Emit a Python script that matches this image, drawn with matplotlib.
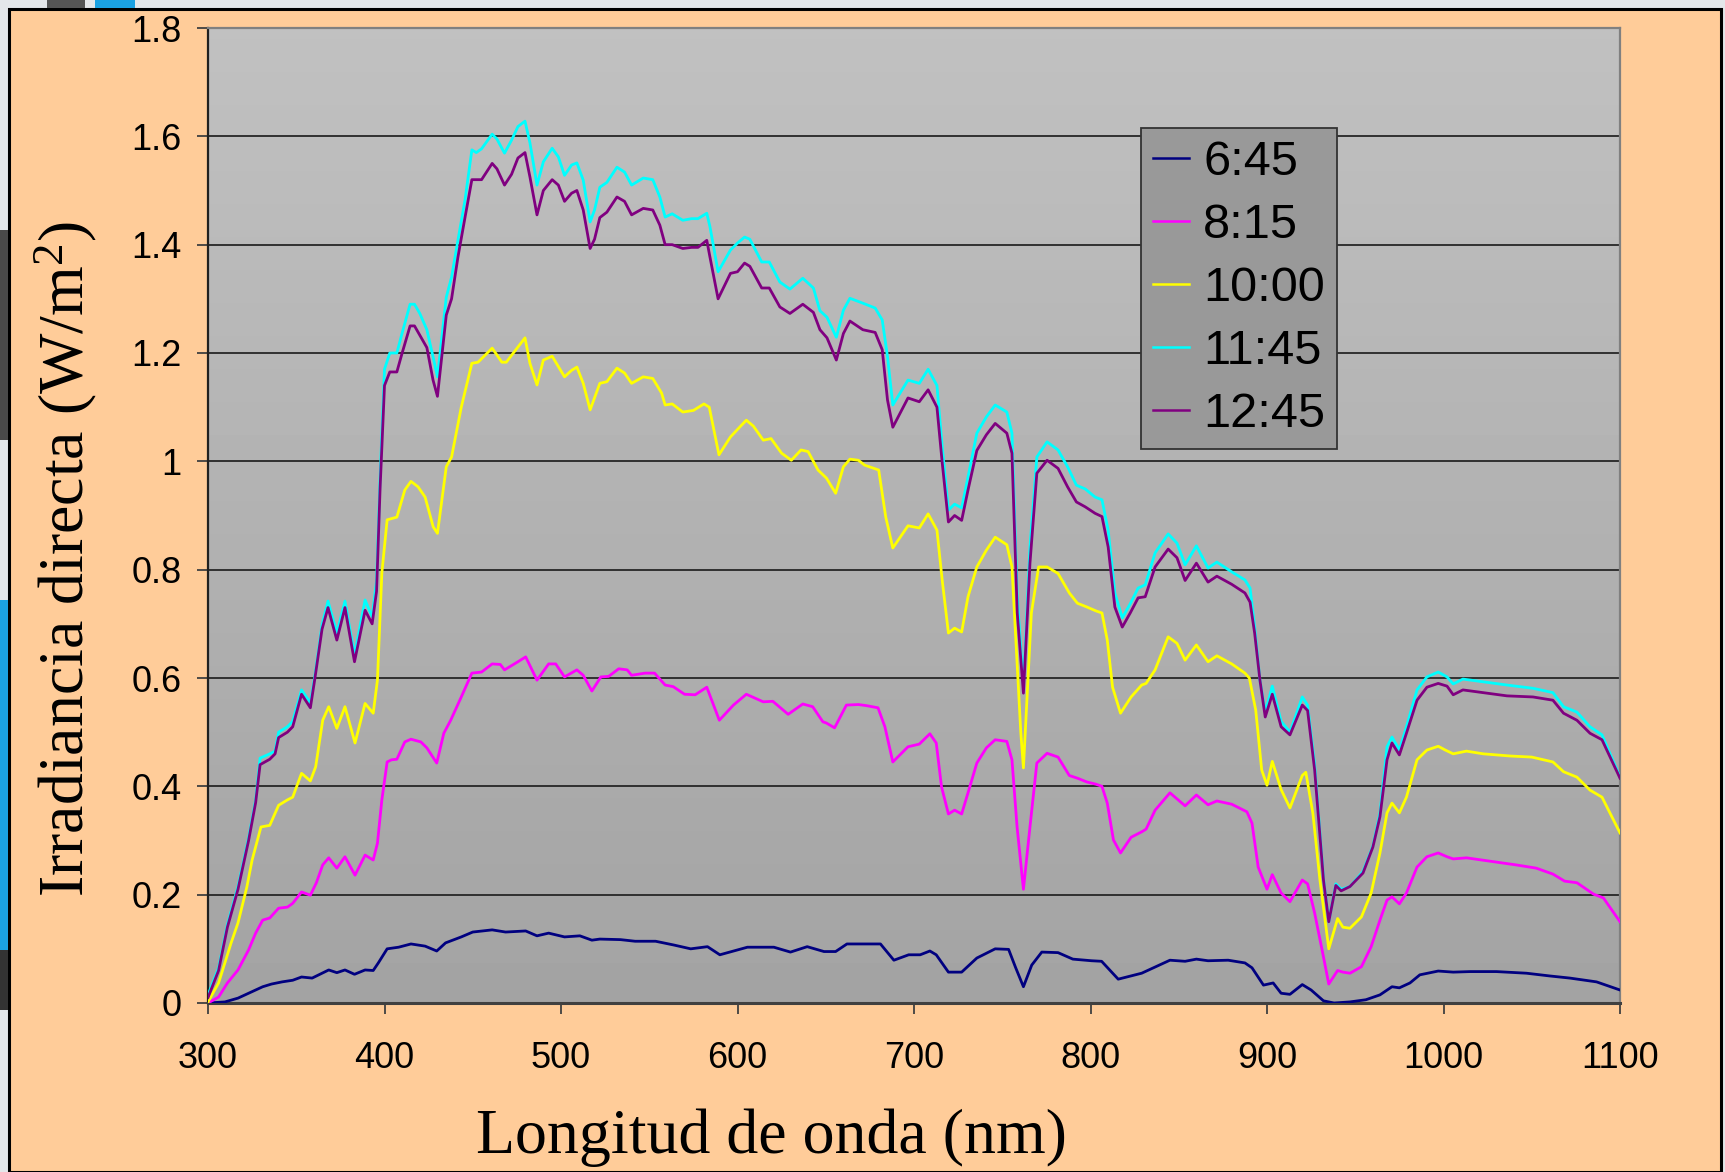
import numpy as np
import matplotlib
matplotlib.use("Agg")
import matplotlib.pyplot as plt
from matplotlib.patches import Rectangle
from matplotlib.ticker import FuncFormatter

plt.rcParams['font.family'] = ['Liberation Sans', 'DejaVu Sans']

# ---------------- data ----------------
series_labels = ["6:45", "8:15", "10:00", "11:45", "12:45"]
series_colors = ["#000080", "#FF00FF", "#FFFF00", "#00FFFF", "#800080"]

wl_0645 = [300, 309.6, 317, 323, 331, 336, 342, 348, 353, 359, 368.4, 373, 377.6, 383, 389, 393.6, 396.5,
           401.5, 408, 415, 423, 429.6, 434.6, 443.5, 450, 461, 468.6, 480, 486.4, 493, 502, 510.7, 517.5,
           522, 533.7, 542, 553.6, 564, 573.5, 583, 590, 605.6, 620.6, 630, 639.5, 649, 655.6, 662, 681,
           688.6, 697, 703.5, 709, 712.6, 719.5, 727, 735.6, 746, 753.6, 757.5, 762, 766.7, 772.4, 781.6,
           790, 800.6, 806.3, 815.7, 829, 845, 853.6, 860, 866.6, 878, 887.5, 891.5, 898, 903.5, 908, 913,
           920, 925, 932, 938, 947, 956, 964, 970.8, 975, 981, 986.6, 997, 1005.5, 1015, 1030, 1047, 1060,
           1071.6, 1086.7, 1100]
irr_0645 = [0.0, 0.002, 0.009, 0.018, 0.03, 0.035, 0.039, 0.042, 0.048, 0.046, 0.061, 0.056, 0.061, 0.053,
            0.061, 0.06, 0.074, 0.10, 0.103, 0.109, 0.105, 0.096, 0.111, 0.122, 0.131, 0.135, 0.131, 0.133,
            0.124, 0.129, 0.122, 0.124, 0.116, 0.118, 0.117, 0.114, 0.114, 0.107, 0.10, 0.104, 0.089, 0.103,
            0.103, 0.094, 0.104, 0.095, 0.095, 0.109, 0.109, 0.079, 0.089, 0.089, 0.096, 0.089, 0.057, 0.057,
            0.083, 0.10, 0.099, 0.066, 0.03, 0.07, 0.094, 0.093, 0.081, 0.078, 0.077, 0.044, 0.055, 0.079,
            0.077, 0.081, 0.078, 0.079, 0.074, 0.065, 0.033, 0.037, 0.018, 0.016, 0.034, 0.024, 0.004, 0.0,
            0.002, 0.006, 0.015, 0.03, 0.028, 0.037, 0.052, 0.059, 0.057, 0.058, 0.058, 0.055, 0.05, 0.046,
            0.039, 0.024]

wl_0815 = [300, 306, 311, 317, 323, 327, 331, 335, 340, 345, 348, 353, 358, 361.4, 365, 368.4, 373, 377.6,
           383.3, 389, 393.6, 396, 398.5, 401.5, 404, 407, 411.5, 415, 420.6, 424, 429.6, 433.6, 437.5,
           443.5, 449.5, 455, 461, 465.6, 468, 475.6, 480, 486.4, 493, 497, 502, 509, 512.6, 517.5, 522.6,
           527, 532.7, 537.5, 540, 547.6, 553, 559, 563.6, 570, 576, 582.6, 589.7, 597.7, 605, 614.6, 620,
           628.7, 637, 642.6, 648.4, 650.3, 655, 661.7, 668.5, 673, 679.6, 683.5, 688, 696.6, 703, 709,
           712.6, 715.6, 719.5, 723, 727, 730.6, 735.6, 741, 746, 752.6, 755.5, 758.4, 762, 765.7, 769.6,
           775.4, 781.6, 788, 792.6, 798, 803, 806.5, 809.5, 813, 817, 823, 829, 831.5, 836.6, 845, 853.6,
           860, 866.6, 871.6, 880, 888.6, 891.5, 895, 900, 903, 908, 913, 920, 923, 927, 932, 935, 940, 943,
           947, 953.5, 959, 964, 968, 970.8, 975, 979, 985, 990.6, 997, 1002, 1005.5, 1013, 1026, 1041,
           1052.5, 1062, 1068.6, 1075.6, 1085, 1090.6, 1100]
irr_0815 = [0.0, 0.011, 0.037, 0.061, 0.098, 0.129, 0.153, 0.157, 0.175, 0.177, 0.184, 0.205, 0.199, 0.222,
            0.255, 0.268, 0.249, 0.27, 0.236, 0.273, 0.264, 0.295, 0.375, 0.445, 0.449, 0.45, 0.482, 0.487,
            0.482, 0.471, 0.443, 0.498, 0.522, 0.565, 0.609, 0.611, 0.626, 0.625, 0.615, 0.63, 0.639, 0.596,
            0.626, 0.626, 0.602, 0.615, 0.605, 0.576, 0.602, 0.603, 0.617, 0.615, 0.605, 0.609, 0.609, 0.587,
            0.584, 0.57, 0.569, 0.583, 0.522, 0.55, 0.57, 0.556, 0.557, 0.533, 0.552, 0.547, 0.519, 0.517,
            0.508, 0.55, 0.551, 0.549, 0.545, 0.51, 0.445, 0.473, 0.478, 0.497, 0.48, 0.399, 0.349, 0.356,
            0.349, 0.388, 0.443, 0.471, 0.486, 0.483, 0.449, 0.325, 0.21, 0.325, 0.443, 0.461, 0.454, 0.42,
            0.415, 0.408, 0.404, 0.40, 0.369, 0.301, 0.277, 0.306, 0.316, 0.321, 0.356, 0.388, 0.364, 0.384,
            0.366, 0.373, 0.367, 0.353, 0.332, 0.251, 0.21, 0.237, 0.203, 0.187, 0.227, 0.22, 0.166, 0.085,
            0.035, 0.06, 0.057, 0.055, 0.067, 0.104, 0.153, 0.19, 0.196, 0.183, 0.203, 0.251, 0.27, 0.277,
            0.27, 0.266, 0.268, 0.262, 0.255, 0.249, 0.238, 0.225, 0.222, 0.201, 0.194, 0.15]

wl_1000 = [300, 306, 313, 317, 322, 325, 330, 335, 340, 345, 348, 353, 358, 361, 365, 368.4, 373, 377.6,
           383.3, 389, 393.6, 396, 398.5, 401.5, 407, 411.5, 415, 419, 423, 427.6, 430, 435, 438, 443.5,
           449.5, 453, 461, 466.5, 469, 475.6, 479.6, 482.4, 486.4, 490, 495, 498.5, 502, 506, 509, 512.6,
           516.5, 522, 526, 531.7, 536, 540, 546.6, 552, 557, 559, 563, 569, 575, 581, 584, 589.5, 596,
           600.6, 605, 609, 614.6, 619, 625, 630.5, 636, 640, 645.6, 650.4, 655.6, 660, 663.7, 668.5, 672,
           680, 684, 688, 696.6, 703, 708, 713, 716, 719.5, 723, 727, 730.6, 735.6, 741, 746, 752.6, 755.5,
           758.5, 760.5, 762, 766.5, 770.6, 775.4, 781.6, 788, 792.6, 798, 803, 806.5, 809.5, 812.5, 817,
           823, 829, 831.5, 836.6, 844, 849, 853.6, 860, 866.6, 871.6, 880, 887.5, 890, 893.6, 897, 900,
           903, 908, 913, 920, 922, 926, 930, 935, 940, 943, 947, 953.5, 959, 964, 968, 970.8, 975, 979,
           985, 990.6, 997, 1001, 1005.5, 1013, 1022.5, 1037.7, 1050, 1062, 1068, 1075.6, 1083, 1089.8, 1100]
irr_1000 = [0.002, 0.037, 0.11, 0.148, 0.214, 0.264, 0.325, 0.328, 0.365, 0.375, 0.38, 0.424, 0.41, 0.436,
            0.522, 0.547, 0.507, 0.547, 0.48, 0.553, 0.535, 0.596, 0.794, 0.892, 0.897, 0.947, 0.963, 0.953,
            0.934, 0.879, 0.867, 0.99, 1.008, 1.10, 1.181, 1.183, 1.209, 1.183, 1.183, 1.211, 1.228, 1.181,
            1.141, 1.187, 1.194, 1.175, 1.156, 1.168, 1.174, 1.144, 1.095, 1.144, 1.147, 1.172, 1.163, 1.144,
            1.156, 1.153, 1.126, 1.104, 1.106, 1.091, 1.094, 1.106, 1.10, 1.012, 1.045, 1.061, 1.076, 1.065,
            1.039, 1.042, 1.015, 1.002, 1.021, 1.018, 0.984, 0.969, 0.941, 0.99, 1.004, 1.002, 0.993, 0.984,
            0.897, 0.84, 0.881, 0.877, 0.903, 0.873, 0.78, 0.683, 0.692, 0.685, 0.75, 0.805, 0.836, 0.86,
            0.846, 0.805, 0.62, 0.50, 0.434, 0.72, 0.805, 0.805, 0.793, 0.757, 0.738, 0.731, 0.724, 0.72,
            0.67, 0.583, 0.535, 0.565, 0.587, 0.59, 0.615, 0.676, 0.664, 0.633, 0.661, 0.63, 0.641, 0.626,
            0.609, 0.60, 0.541, 0.43, 0.402, 0.446, 0.394, 0.36, 0.42, 0.426, 0.35, 0.227, 0.10, 0.156, 0.14,
            0.138, 0.159, 0.203, 0.277, 0.351, 0.369, 0.351, 0.38, 0.449, 0.467, 0.474, 0.467, 0.46, 0.465,
            0.46, 0.456, 0.454, 0.445, 0.427, 0.417, 0.393, 0.38, 0.314]

wl_noon = [300, 306, 311, 317, 323, 327, 329.5, 335, 338, 340, 345, 348, 353, 358, 360.6, 364.6, 368, 373,
           377.6, 383, 389, 393, 395.5, 397.5, 400, 403, 407, 410, 414.5, 417, 420, 424, 427.5, 430, 435,
           438, 441.6, 445.6, 449.5, 452, 455, 461, 463.7, 468, 472, 475.6, 479.6, 482.4, 486.4, 490, 495,
           498.5, 502, 506, 509, 512.6, 516.5, 519, 522, 526, 531.7, 536, 540, 546.6, 552, 556, 559, 563,
           569, 574, 577.6, 582.6, 584.4, 589, 596, 600, 604, 607, 613.7, 618, 624, 629.7, 637, 643, 646.7,
           650.7, 656, 660, 663.7, 671, 678, 682, 685, 688, 696.6, 703, 708, 713, 716, 719.5, 723, 727,
           730.6, 735.6, 741, 746, 752.6, 755.5, 758.5, 762, 765.7, 769.6, 775.4, 781.6, 787, 792, 797,
           802.6, 806.5, 810, 813.8, 818, 822.5, 827, 831, 836.6, 844, 849, 853.6, 860, 866.6, 871.6, 880,
           887.5, 890.4, 893, 896, 899, 903, 908, 913, 920, 923, 927, 932, 935, 939, 942, 947, 954.4, 960,
           964, 968, 970.8, 975, 979, 985, 990.6, 997, 1002, 1005.5, 1011, 1022.5, 1036, 1050.7, 1062, 1068,
           1075.6, 1083, 1089.8, 1100]
irr_1145 = [0.015, 0.065, 0.145, 0.215, 0.305, 0.375, 0.452, 0.46, 0.465, 0.50, 0.51, 0.52, 0.578, 0.554,
            0.605, 0.698, 0.742, 0.683, 0.742, 0.642, 0.744, 0.713, 0.78, 0.97, 1.17, 1.20, 1.20, 1.237,
            1.29, 1.29, 1.273, 1.243, 1.193, 1.156, 1.303, 1.34, 1.408, 1.482, 1.575, 1.57, 1.577, 1.604,
            1.595, 1.569, 1.593, 1.618, 1.628, 1.588, 1.51, 1.553, 1.578, 1.562, 1.528, 1.547, 1.551, 1.519,
            1.442, 1.464, 1.506, 1.515, 1.543, 1.534, 1.51, 1.523, 1.52, 1.488, 1.451, 1.457, 1.445, 1.448,
            1.448, 1.458, 1.433, 1.35, 1.39, 1.403, 1.414, 1.41, 1.368, 1.368, 1.331, 1.318, 1.338, 1.32,
            1.278, 1.266, 1.229, 1.279, 1.301, 1.292, 1.283, 1.261, 1.193, 1.104, 1.15, 1.144, 1.17, 1.14,
            1.026, 0.91, 0.921, 0.914, 0.971, 1.052, 1.082, 1.104, 1.091, 1.052, 0.75, 0.584, 0.842, 1.008,
            1.036, 1.021, 0.99, 0.956, 0.949, 0.934, 0.929, 0.873, 0.757, 0.711, 0.737, 0.766, 0.772, 0.831,
            0.866, 0.849, 0.809, 0.844, 0.803, 0.814, 0.796, 0.781, 0.766, 0.694, 0.596, 0.537, 0.585, 0.52,
            0.50, 0.565, 0.55, 0.44, 0.23, 0.15, 0.22, 0.21, 0.215, 0.243, 0.29, 0.351, 0.473, 0.491, 0.467,
            0.51, 0.578, 0.602, 0.611, 0.602, 0.589, 0.598, 0.593, 0.587, 0.581, 0.573, 0.547, 0.537, 0.51,
            0.495, 0.417]
irr_1245 = [0.01, 0.06, 0.14, 0.21, 0.30, 0.37, 0.44, 0.45, 0.46, 0.49, 0.50, 0.51, 0.57, 0.545, 0.60,
            0.69, 0.73, 0.67, 0.73, 0.63, 0.725, 0.70, 0.76, 0.95, 1.14, 1.165, 1.165, 1.20, 1.25, 1.25,
            1.233, 1.21, 1.15, 1.12, 1.27, 1.30, 1.377, 1.45, 1.52, 1.52, 1.52, 1.55, 1.54, 1.51, 1.53, 1.56,
            1.57, 1.525, 1.455, 1.50, 1.52, 1.51, 1.48, 1.495, 1.50, 1.464, 1.393, 1.41, 1.45, 1.46, 1.488,
            1.48, 1.455, 1.467, 1.464, 1.436, 1.40, 1.40, 1.393, 1.395, 1.395, 1.408, 1.377, 1.30, 1.347,
            1.35, 1.366, 1.36, 1.32, 1.32, 1.285, 1.273, 1.29, 1.275, 1.243, 1.228, 1.187, 1.236, 1.259,
            1.243, 1.238, 1.206, 1.113, 1.063, 1.117, 1.11, 1.132, 1.10, 0.997, 0.888, 0.90, 0.891, 0.947,
            1.02, 1.049, 1.07, 1.052, 1.015, 0.72, 0.572, 0.812, 0.978, 1.002, 0.987, 0.953, 0.925, 0.916,
            0.904, 0.898, 0.842, 0.731, 0.694, 0.72, 0.748, 0.75, 0.805, 0.838, 0.822, 0.78, 0.812, 0.777,
            0.788, 0.773, 0.757, 0.74, 0.683, 0.596, 0.528, 0.57, 0.51, 0.495, 0.55, 0.54, 0.43, 0.227, 0.15,
            0.217, 0.207, 0.215, 0.24, 0.288, 0.344, 0.449, 0.48, 0.458, 0.498, 0.559, 0.583, 0.59, 0.585,
            0.569, 0.578, 0.573, 0.567, 0.565, 0.559, 0.535, 0.522, 0.498, 0.486, 0.415]

x_ticks = [300, 400, 500, 600, 700, 800, 900, 1000, 1100]
y_ticks = [0, 0.2, 0.4, 0.6, 0.8, 1.0, 1.2, 1.4, 1.6, 1.8]

series = [(wl_0645, irr_0645), (wl_0815, irr_0815), (wl_1000, irr_1000),
          (wl_noon, irr_1145), (wl_noon, irr_1245)]

# ---------------- figure ----------------
W, H = 1725, 1172
fig = plt.figure(figsize=(W / 100, H / 100), dpi=100)
fig.patch.set_facecolor('#E4E7EA')

def fx(px):
    return px / W

def fy(py):
    return 1 - py / H

# orange slide panel with black frame
fig.patches.append(Rectangle((fx(9), 0), fx(1721) - fx(9), fy(9), transform=fig.transFigure,
                             facecolor='#FFCC99', edgecolor='black', linewidth=2.2, zorder=0))
# decorative template bits
for (x0, y0, x1, y1, c) in [(47, 0, 85, 8, '#555555'), (95, 0, 135, 8, '#1BA1E2'),
                            (0, 230, 8, 440, '#4A4A4A'), (0, 600, 8, 950, '#1BA1E2'),
                            (0, 950, 8, 1010, '#333333')]:
    fig.patches.append(Rectangle((fx(x0), fy(y1)), fx(x1) - fx(x0), fy(y0) - fy(y1),
                                 transform=fig.transFigure, facecolor=c, edgecolor='none', zorder=0))

ax = fig.add_axes([fx(208), fy(1003), fx(1620) - fx(208), fy(28) - fy(1003)])
ax.set_zorder(2)

# gradient plot-area background
grad = np.linspace(0.64, 0.755, 256).reshape(-1, 1)
ax.imshow(grad, extent=[0, 1, 0, 1], transform=ax.transAxes, aspect='auto', cmap='gray',
          vmin=0, vmax=1, origin='lower', zorder=0, interpolation='bilinear')

for yv in y_ticks[1:-1]:
    ax.axhline(yv, color='#262626', lw=1.3, zorder=1)

for (xs, ys), lab, col in zip(series, series_labels, series_colors):
    ax.plot(xs, ys, color=col, lw=2.0, label=lab, zorder=3, solid_joinstyle='round')

ax.set_xlim(300, 1100)
ax.set_ylim(0, 1.8)
ax.set_xticks(x_ticks)
ax.set_yticks(y_ticks)
ax.yaxis.set_major_formatter(FuncFormatter(lambda v, p: f"{v:g}"))
ax.tick_params(axis='both', direction='out', length=8, width=1.3, color='#404040', labelcolor='black')
ax.tick_params(axis='y', labelsize=26, pad=11)
ax.tick_params(axis='x', labelsize=26, pad=19)

for s in ['top', 'right']:
    ax.spines[s].set_color('#808080')
    ax.spines[s].set_linewidth(1.6)
ax.spines['left'].set_color('#202020')
ax.spines['left'].set_linewidth(1.6)
ax.spines['bottom'].set_color('#404040')
ax.spines['bottom'].set_linewidth(2.2)

leg = ax.legend(loc='upper left', bbox_to_anchor=(0.661, 0.897), borderaxespad=0,
                fontsize=35, handlelength=0.75, handletextpad=0.28, labelspacing=0.37,
                borderpad=0.24, fancybox=False, framealpha=1)
leg.get_frame().set_facecolor('#999999')
leg.get_frame().set_edgecolor('#333333')
leg.get_frame().set_linewidth(1.3)
for ln in leg.get_lines():
    ln.set_linewidth(1.8)

serif = ['Liberation Serif', 'DejaVu Serif']
fig.text(fx(66), fy(559), r'Irradiancia directa (W/m$\mathregular{^2}$)', rotation=90,
         ha='center', va='center', fontsize=46, family=serif)
fig.text(fx(771), fy(1153), 'Longitud de onda (nm)', ha='center', va='baseline',
         fontsize=46, family=serif)

fig.savefig('out.png', dpi=100, facecolor=fig.get_facecolor())
